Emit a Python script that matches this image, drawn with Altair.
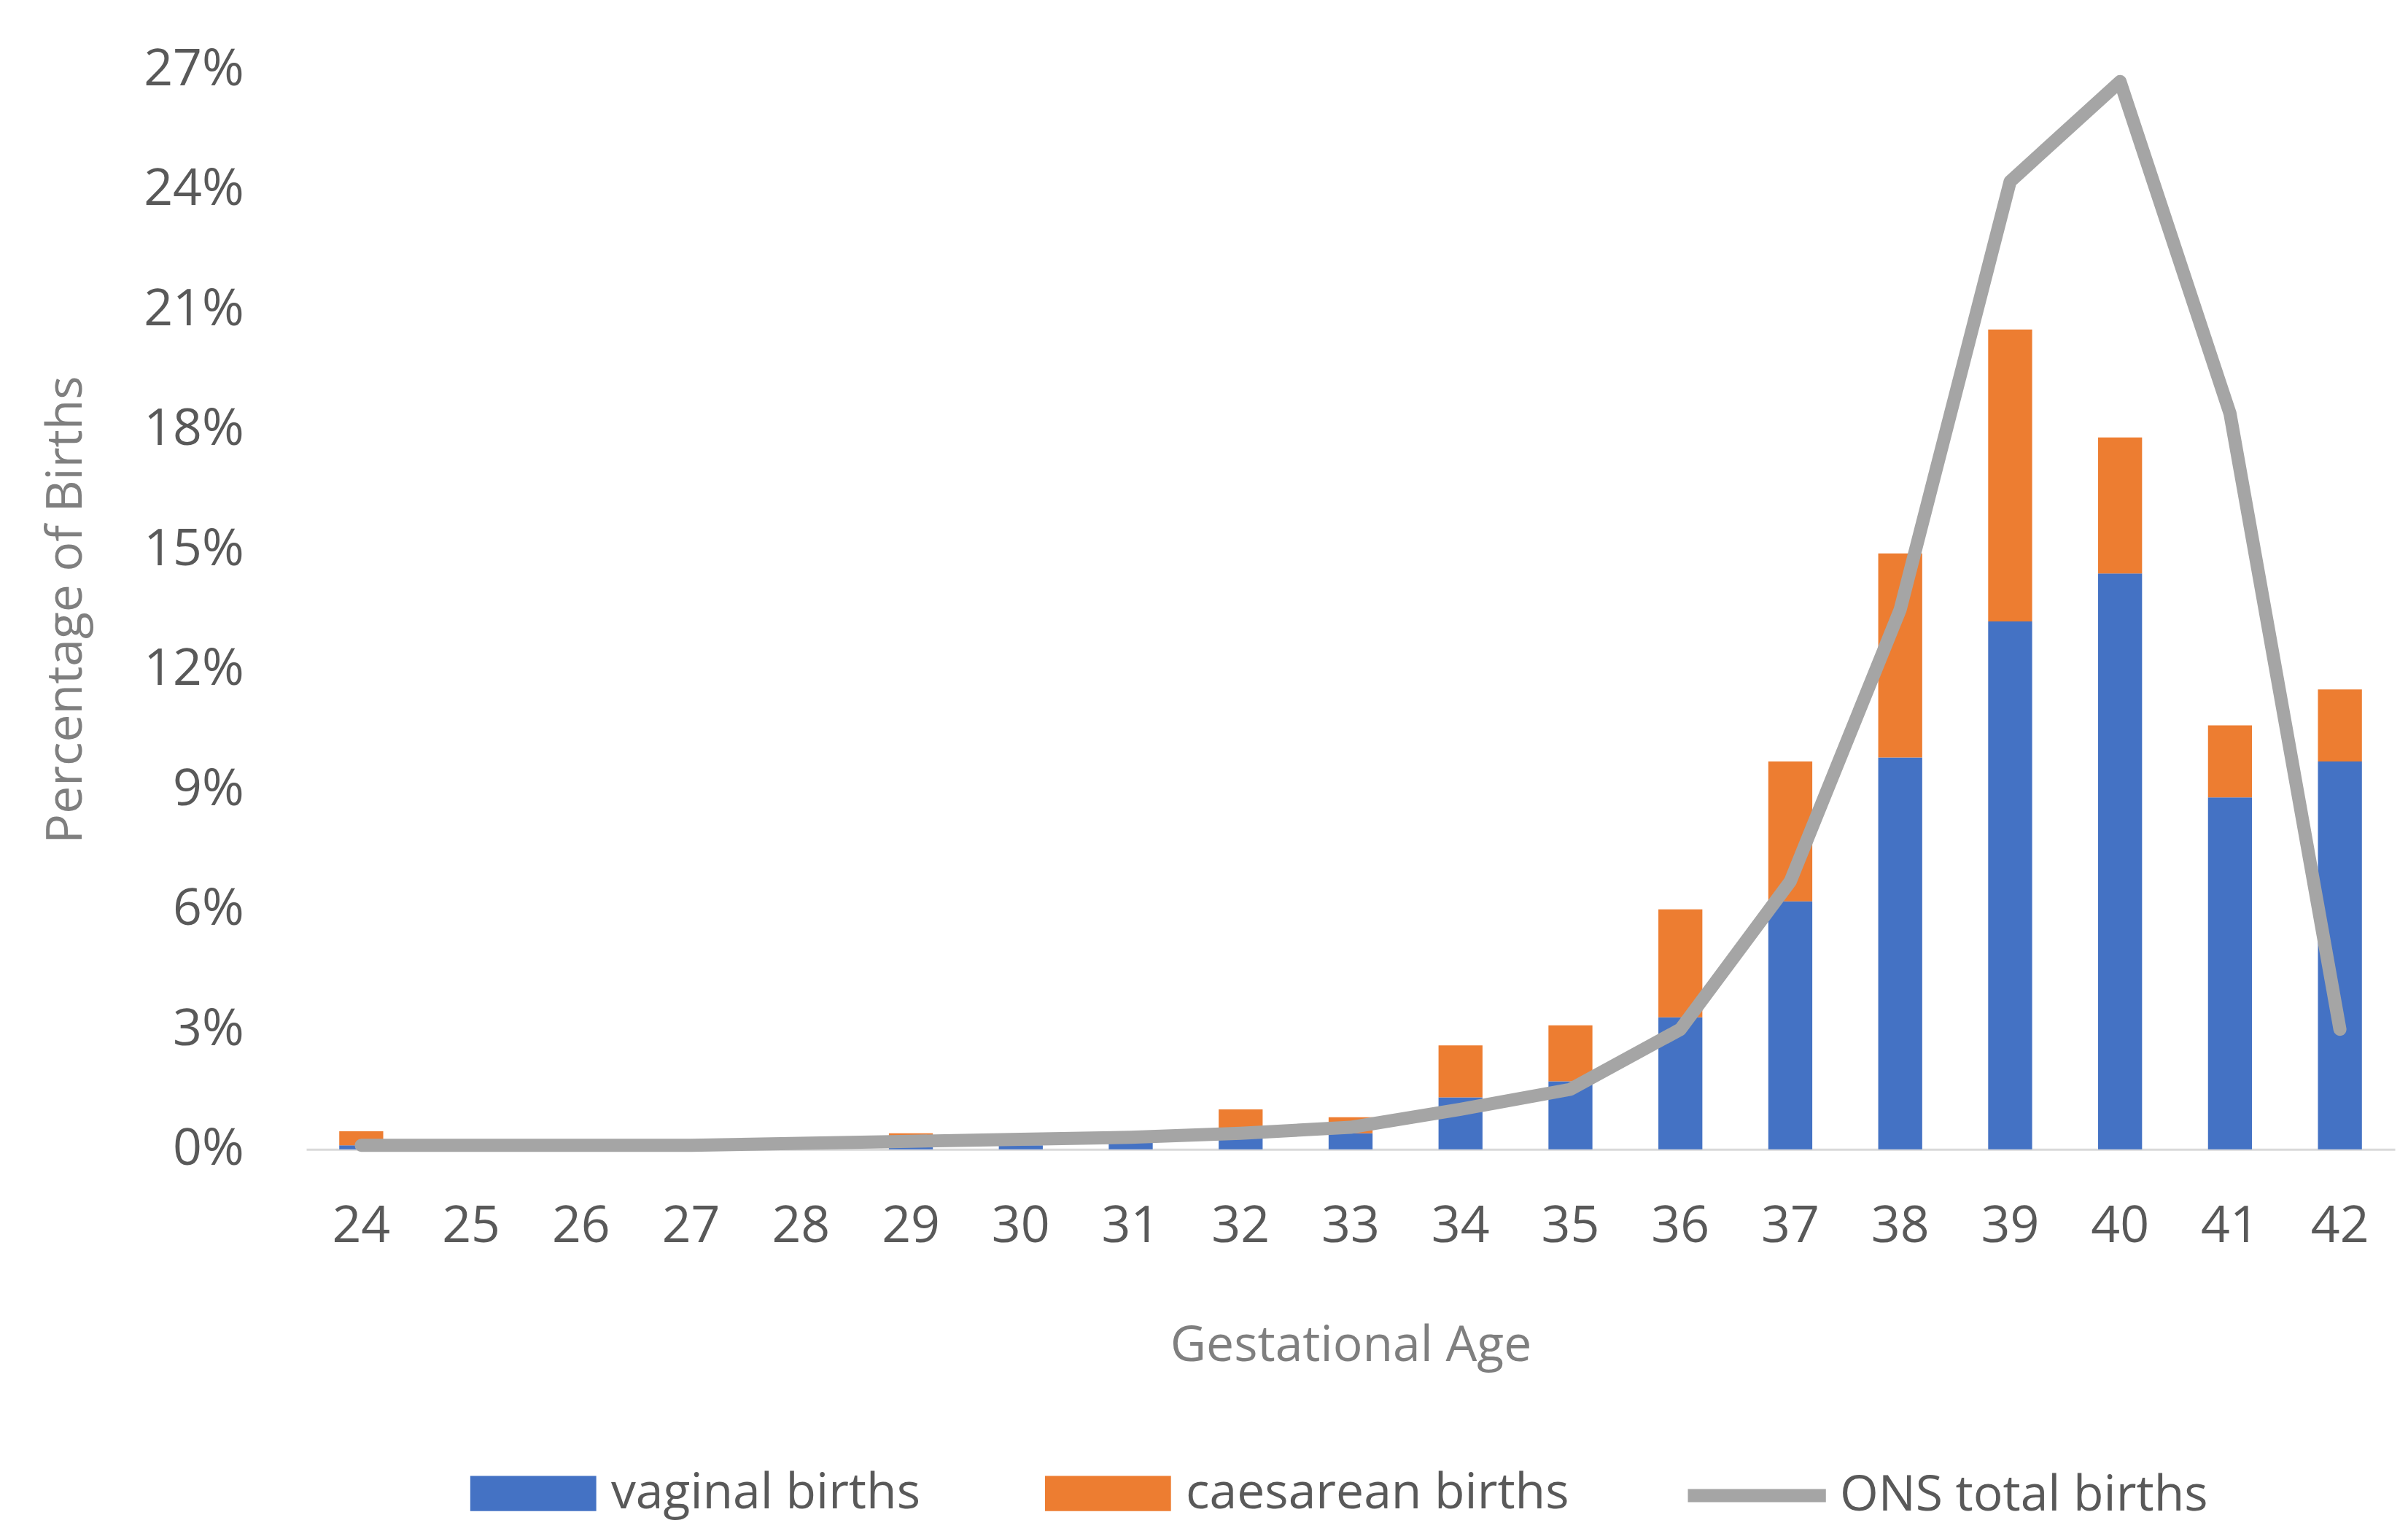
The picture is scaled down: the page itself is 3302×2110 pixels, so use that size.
import altair as alt
import pandas as pd

weeks = [str(w) for w in range(24, 43)]
vaginal = [0.1, 0, 0, 0, 0, 0.1, 0.1, 0.3, 0.4, 0.4, 1.3, 1.7, 3.3, 6.2, 9.8, 13.2, 14.4, 8.8, 9.7]
caesarean = [0.35, 0, 0, 0, 0, 0.3, 0, 0, 0.6, 0.4, 1.3, 1.4, 2.7, 3.5, 5.1, 7.3, 3.4, 1.8, 1.8]
ons_total = [0.1, 0.1, 0.1, 0.1, 0.15, 0.2, 0.25, 0.3, 0.4, 0.55, 1.0, 1.5, 3.0, 6.7, 13.5, 24.2, 26.7, 18.4, 3.0]

bar_series = ['vaginal births', 'caesarean births']
bar_colors = ['#4472C4', '#ED7D31']
y_ticks = [i * 0.03 for i in range(10)]

FONT = 'Open Sans'

# Stacked bars in long form, vaginal at the bottom
bars_df = pd.DataFrame({
    'week': weeks * 2,
    'series': ['vaginal births'] * len(weeks) + ['caesarean births'] * len(weeks),
    'order': [0] * len(weeks) + [1] * len(weeks),
    'share': [v / 100 for v in vaginal] + [c / 100 for c in caesarean],
})

line_df = pd.DataFrame({
    'week': weeks,
    'series': 'ONS total births',
    'share': [o / 100 for o in ons_total],
})

x_enc = alt.X('week:O', sort=weeks, title='Gestational Age',
              scale=alt.Scale(paddingInner=0.6, paddingOuter=0.3),
              axis=alt.Axis(labelAngle=0, ticks=False, tickSize=0, labelPadding=72,
                            titlePadding=95, domainColor='#D9D9D9', domainWidth=3))

bars = alt.Chart(bars_df).mark_bar().encode(
    x=x_enc,
    y=alt.Y('share:Q', stack='zero', title='Percentage of Births',
            scale=alt.Scale(domain=[0, 0.27], nice=False),
            axis=alt.Axis(values=y_ticks, format='.0%', grid=False, domain=False,
                          ticks=False, tickSize=0, labelPadding=86, titlePadding=95)),
    color=alt.Color('series:N', scale=alt.Scale(domain=bar_series, range=bar_colors),
                    legend=alt.Legend(title=None, orient='none', direction='horizontal',
                                      legendX=225, legendY=1870,
                                      symbolType='M-1,-0.28H1V0.28H-1Z', symbolSize=30000,
                                      symbolStrokeWidth=0, columnPadding=170, labelOffset=20)),
    order=alt.Order('order:Q'),
)

line = alt.Chart(line_df).mark_line(strokeWidth=18, strokeJoin='round', strokeCap='round').encode(
    x=alt.X('week:O', sort=weeks),
    y=alt.Y('share:Q'),
    color=alt.Color('series:N', scale=alt.Scale(domain=['ONS total births'], range=['#A5A5A5']),
                    legend=alt.Legend(title=None, orient='none', direction='horizontal',
                                      legendX=1890, legendY=1856,
                                      symbolType='stroke', symbolSize=36000,
                                      symbolStrokeWidth=18, labelOffset=10)),
)

chart = alt.layer(bars, line).resolve_scale(color='independent').properties(
    width=2871,
    height=1484,
    autosize=alt.AutoSizeParams(type='none'),
    padding={'left': 413, 'top': 85, 'right': 10, 'bottom': 525},
).configure_view(
    stroke=None
).configure_axis(
    labelFont=FONT, titleFont=FONT,
    labelFontSize=70, titleFontSize=68,
    labelColor='#595959', titleColor='#7F7F7F',
    titleFontWeight='normal',
).configure_legend(
    labelFont=FONT, labelFontSize=68, labelColor='#595959', labelLimit=1000,
)

chart.save('out.html', embed_options={'renderer': 'svg', 'actions': False})
